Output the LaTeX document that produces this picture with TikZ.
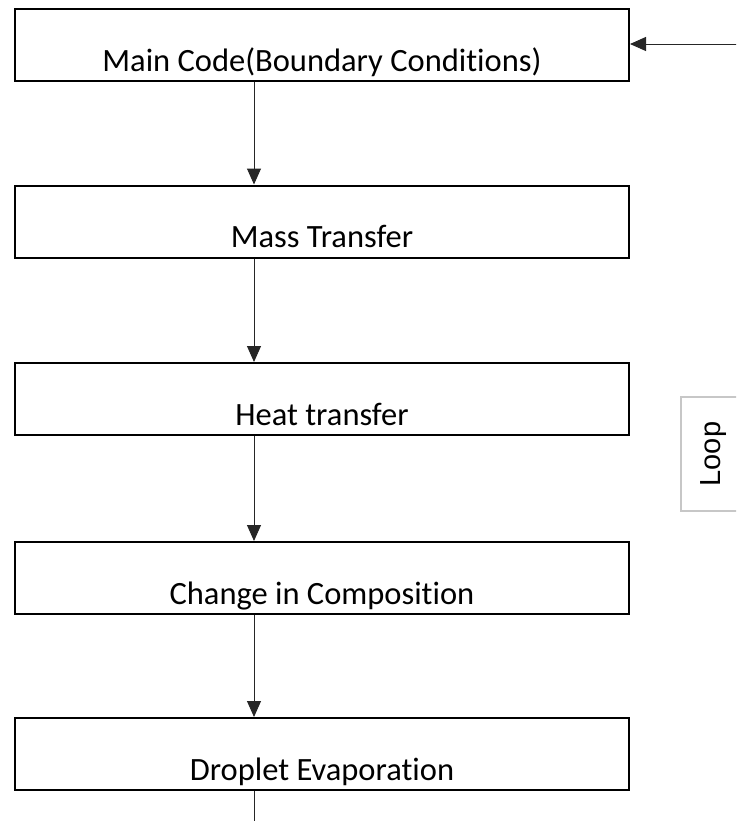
\documentclass[tikz,border=0pt]{standalone}
\usepackage{fontspec}
\setmainfont[Ligatures=NoCommon]{Carlito}
\newfontfamily\loopfont{Liberation Sans}
\usetikzlibrary{arrows.meta}

\begin{document}
\begin{tikzpicture}[x=0.5pt, y=-0.5pt,
		stage/.style={draw=black, line width=1pt, inner sep=0pt, minimum width=307pt,
			text height=31pt, text depth=5pt, font=\fontsize{16.25}{19}\selectfont},
		flow/.style={draw=black!85, line width=0.5pt, -{Triangle[length=8pt,width=7pt]}},
		loopbox/.style={draw=black!22, line width=0.8pt, rotate=90, inner sep=0pt,
			minimum width=57pt, minimum height=33pt, font=\loopfont\fontsize{14.5}{18}\selectfont}]
		%%%%% START %%%%%
		
		\clip (0, 0) rectangle (736, 821);
		
		\node[stage] (main) at (322, 45) {Main Code(Boundary Conditions)};
		\node[stage] (mass) at (322, 221.5) {Mass Transfer};
		\node[stage] (heat) at (322, 399) {Heat transfer};
		\node[stage] (comp) at (322, 578) {Change in Composition};
		\node[stage] (drop) at (322, 754) {Droplet Evaporation};
		
		\node[loopbox] (loop) at (714, 454) {Loop};
		
		\coordinate (spine) at (254, 0);
		\coordinate (feed) at (745, 44);
		\coordinate (tail) at (254, 830);
		
		\draw[flow] (main.south -| spine) -- (mass.north -| spine);
		\draw[flow] (mass.south -| spine) -- (heat.north -| spine);
		\draw[flow] (heat.south -| spine) -- (comp.north -| spine);
		\draw[flow] (comp.south -| spine) -- (drop.north -| spine);
		\draw[draw=black!85, line width=0.5pt] (drop.south -| spine) -- (tail);
		
		\draw[flow] (feed) -- (main.east |- feed);
		
		%%%%% END %%%%%
	\end{tikzpicture}
\end{document}
